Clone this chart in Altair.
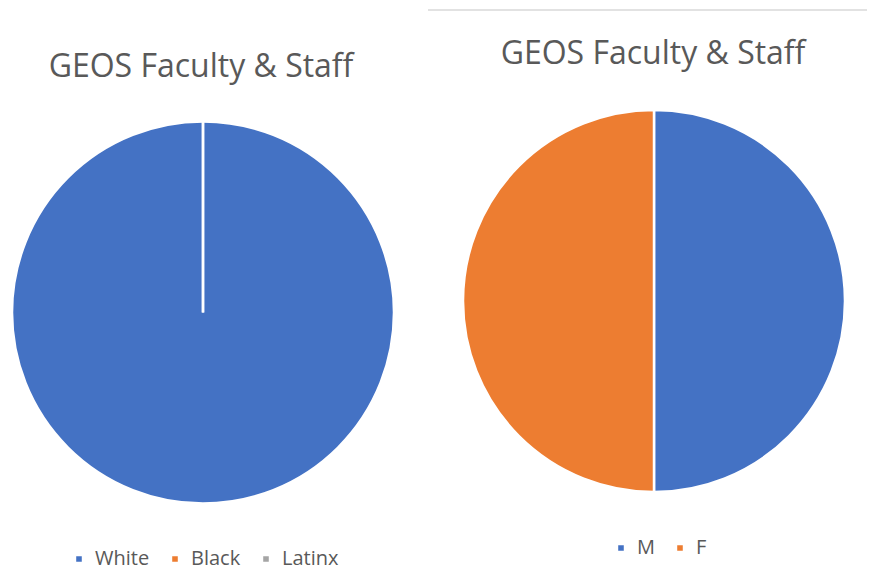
import altair as alt
import pandas as pd

# Data
race_labels = ["White", "Black", "Latinx"]
race_values = [100, 0, 0]
race_colors = ["#4472C4", "#ED7D31", "#A5A5A5"]

gender_labels = ["M", "F"]
gender_values = [50, 50]
gender_colors = ["#4472C4", "#ED7D31"]

title_text = "GEOS Faculty & Staff"

race_df = pd.DataFrame({"group": race_labels, "value": race_values,
                        "order": list(range(len(race_labels)))})
gender_df = pd.DataFrame({"group": gender_labels, "value": gender_values,
                          "order": list(range(len(gender_labels)))})

W, H = 859, 565
R = 191
FONT = "Open Sans"
TXT = "#595959"

race_pie = alt.Chart(race_df).mark_arc(
    outerRadius=R, stroke="white", strokeWidth=2.5
).encode(
    theta=alt.Theta("value:Q", stack=True),
    order=alt.Order("order:Q"),
    color=alt.Color(
        "group:N",
        scale=alt.Scale(domain=race_labels, range=race_colors),
        sort=race_labels,
        legend=alt.Legend(
            orient="none", legendX=61, legendY=541, direction="horizontal",
            title=None, symbolType="square", symbolSize=50,
            labelFontSize=20, labelFont=FONT, labelColor=TXT,
            columnPadding=15, labelOffset=6, padding=0,
        ),
    ),
    x=alt.value(195),
    y=alt.value(304.5),
)

gender_pie = alt.Chart(gender_df).mark_arc(
    outerRadius=R, stroke="white", strokeWidth=2.5
).encode(
    theta=alt.Theta("value:Q", stack=True),
    order=alt.Order("order:Q"),
    color=alt.Color(
        "group:N",
        scale=alt.Scale(domain=gender_labels, range=gender_colors),
        sort=gender_labels,
        legend=alt.Legend(
            orient="none", legendX=603, legendY=530, direction="horizontal",
            title=None, symbolType="square", symbolSize=50,
            labelFontSize=20, labelFont=FONT, labelColor=TXT,
            columnPadding=15, labelOffset=6, padding=0,
        ),
    ),
    x=alt.value(646),
    y=alt.value(293),
)

left_title = alt.Chart(pd.DataFrame({"t": [title_text]})).mark_text(
    font=FONT, fontSize=32, color=TXT, align="center", baseline="middle"
).encode(text="t:N", x=alt.value(193), y=alt.value(59))

right_title = alt.Chart(pd.DataFrame({"t": [title_text]})).mark_text(
    font=FONT, fontSize=32, color=TXT, align="center", baseline="middle"
).encode(text="t:N", x=alt.value(645), y=alt.value(46))

border = alt.Chart(pd.DataFrame({"a": [0]})).mark_rule(
    color="#D9D9D9", strokeWidth=1.5
).encode(x=alt.value(420), x2=alt.value(W), y=alt.value(2))

chart = alt.layer(
    race_pie, gender_pie, left_title, right_title, border
).resolve_scale(
    theta="independent", color="independent"
).resolve_legend(
    color="independent"
).properties(
    width=W, height=H,
    autosize=alt.AutoSizeParams(type="none"),
    padding=0,
).configure_view(stroke=None)

chart.save("out.html", embed_options={"renderer": "svg", "actions": False})
